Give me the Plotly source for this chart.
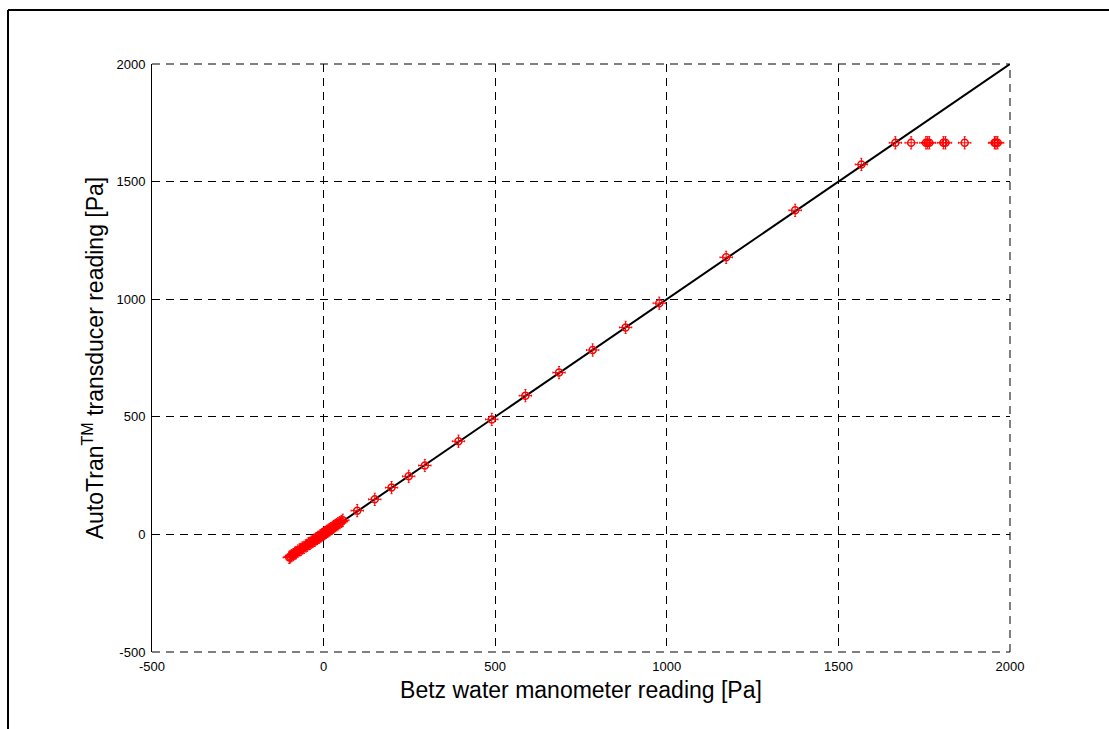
import plotly.graph_objects as go

# Reference line y = x
line_x = [-100, 2000]
line_y = [-100, 2000]

# Axis ticks
tick_vals = [-500, 0, 500, 1000, 1500, 2000]
tick_text = ["-500", "0", "500", "1000", "1500", "2000"]

# Betz manometer readings [Pa] and AutoTran readings [Pa]
betz = [-100, -97, -93, -88, -84, -80, -75, -70, -66, -62, -57, -52, -48, -44, -40,
        -36, -32, -28, -25, -22, -19, -16, -13, -10, -8, -5, -3, 0, 2, 4, 7, 10, 12,
        15, 18, 21, 24, 27, 30, 34, 38, 42, 47, 52, 56,
        98, 149, 198, 248, 295, 393, 490, 588, 686, 784, 880, 978, 1173, 1374, 1567,
        1666, 1712, 1755, 1760, 1765, 1806, 1812, 1868, 1955, 1959, 1964]
autotran = [-98, -95, -90, -86, -80, -78, -71, -66, -64, -58, -55, -49, -46, -40, -38,
            -33, -30, -25, -24, -19, -17, -13, -12, -7, -6, -2, -1, 3, 4, 7, 9, 13, 14,
            18, 20, 24, 26, 30, 33, 37, 41, 45, 50, 55, 60,
            101, 149, 199, 247, 293, 396, 489, 590, 688, 784, 880, 983, 1178, 1378, 1573,
            1665, 1665, 1665, 1665, 1665, 1665, 1665, 1665, 1665, 1665, 1665]

err_x = 18
err_y = 26

fig = go.Figure()
fig.add_trace(go.Scatter(
    x=line_x, y=line_y, mode="lines",
    line=dict(color="black", width=2), showlegend=False, hoverinfo="skip"))
fig.add_trace(go.Scatter(
    x=betz, y=autotran, mode="markers",
    marker=dict(symbol="circle-open", size=7, color="red", line=dict(color="red", width=1.5)),
    error_x=dict(type="constant", value=err_x, color="red", thickness=1, width=1),
    error_y=dict(type="constant", value=err_y, color="red", thickness=1, width=1),
    showlegend=False))

# plot area in pixels: left 152, right 1010, top 64, bottom 652
L, R, T, B = 152, 1010, 64, 652
W, H = 1109, 729
pw, ph = R - L, B - T

def px(p):
    return (p - L) / pw

def py(q):
    return (B - q) / ph

grid = dict(showgrid=True, gridcolor="black", gridwidth=1, griddash="8px,6px")

fig.update_layout(
    width=W, height=H,
    margin=dict(l=L, r=W - R, t=T, b=H - B),
    paper_bgcolor="white", plot_bgcolor="white",
    font=dict(family="Liberation Sans, Arial, sans-serif", color="black"),
    xaxis=dict(range=[-500, 2000], tickmode="array", tickvals=tick_vals, ticktext=tick_text,
               zeroline=False, showline=False, ticks="", tickfont=dict(size=13), ticklabelstandoff=5,
               title=dict(text="Betz water manometer reading [Pa]", font=dict(size=23), standoff=8),
               automargin=False, **grid),
    yaxis=dict(range=[-500, 2000], tickmode="array", tickvals=tick_vals, ticktext=tick_text,
               zeroline=False, showline=True, linecolor="black", linewidth=1, ticks="",
               tickfont=dict(size=13), ticklabelstandoff=3,
               title=dict(text="AutoTran<sup>TM</sup> transducer reading [Pa]", font=dict(size=23), standoff=6),
               automargin=False, **grid),
    shapes=[
        # outer frame (top and left edges)
        dict(type="line", xref="paper", yref="paper", x0=px(8), x1=px(1112), y0=py(10), y1=py(10),
             line=dict(color="black", width=2)),
        dict(type="line", xref="paper", yref="paper", x0=px(8), x1=px(8), y0=py(10), y1=py(732),
             line=dict(color="black", width=2)),
        # dashed box edges
        dict(type="line", xref="paper", yref="paper", x0=0, x1=1, y0=1, y1=1,
             line=dict(color="black", width=1, dash="8px,6px")),
        dict(type="line", xref="paper", yref="paper", x0=1, x1=1, y0=0, y1=1,
             line=dict(color="black", width=1, dash="8px,6px")),
        dict(type="line", xref="paper", yref="paper", x0=0, x1=1, y0=0, y1=0,
             line=dict(color="black", width=1, dash="8px,6px")),
    ],
)

fig.write_html("out.html")
